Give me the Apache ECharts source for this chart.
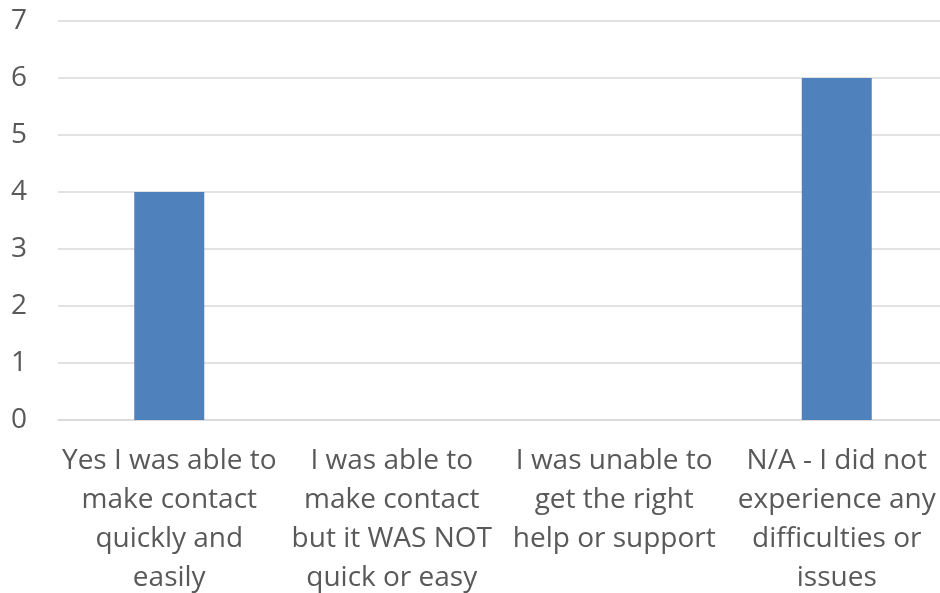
<!DOCTYPE html>
<html>
<head>
<meta charset="utf-8">
<script src="https://cdn.jsdelivr.net/npm/echarts@6/dist/echarts.min.js"></script>
<style>
    html, body { margin: 0; padding: 0; background: #fff; }
    #chart { width: 940px; height: 593px; }
</style>
</head>
<body>
<div id="chart"></div>
<script>
const categories = [
    'Yes I was able to\nmake contact\nquickly and\neasily',
    'I was able to\nmake contact\nbut it WAS NOT\nquick or easy',
    'I was unable to\nget the right\nhelp or support',
    'N/A - I did not\nexperience any\ndifficulties or\nissues'
];
const counts = [4, 0, 0, 6];
const yTicks = [0, 1, 2, 3, 4, 5, 6, 7];

let chart = echarts.init(document.getElementById('chart'));

let options = {
    animation: false,
    // la zone de tracé déborde un peu à droite, comme dans l'original
    grid: { left: 58, top: 21, width: 890, bottom: 173, outerBoundsMode: 'none', containLabel: false },
    xAxis: {
        type: 'category',
        data: categories,
        axisLine: { lineStyle: { color: '#d9d9d9', width: 1.5 } },
        axisTick: { show: false },
        axisLabel: {
            interval: 0,
            margin: 22,
            color: '#595959',
            fontFamily: 'Open Sans',
            fontSize: 28,
            lineHeight: 39
        }
    },
    yAxis: {
        type: 'value',
        min: yTicks[0],
        max: yTicks[yTicks.length - 1],
        interval: 1,
        axisLine: { show: false },
        axisTick: { show: false },
        splitLine: { lineStyle: { color: '#d9d9d9', width: 1.5 } },
        axisLabel: {
            margin: 31,
            color: '#595959',
            fontFamily: 'Open Sans',
            fontSize: 28
        }
    },
    series: [
        {
            type: 'bar',
            data: counts,
            barWidth: 70,
            itemStyle: { color: '#4f81bd' }
        }
    ]
};

chart.setOption(options);
</script>
</body>
</html>
